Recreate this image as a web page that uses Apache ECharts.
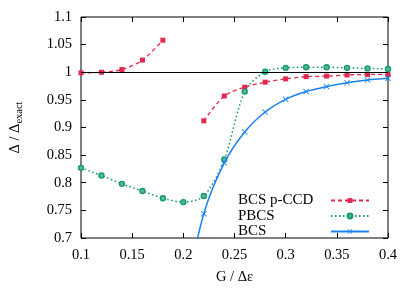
<!DOCTYPE html>
<html><head><meta charset="utf-8">
<script src="https://cdn.jsdelivr.net/npm/echarts@6/dist/echarts.min.js"></script>
<style>html,body{margin:0;padding:0;background:#fff}#c{width:415px;height:290px}</style>
</head><body><div id="c"></div>
<script>
const xs = [0.1,0.12,0.14,0.16,0.18,0.2,0.22,0.24,0.26,0.28,0.3,0.32,0.34,0.36,0.38,0.4];
const pccd = [0.999,1.000,1.005,1.022,1.058,null,0.912,0.957,0.973,0.982,0.988,0.992,0.993,0.995,0.996,0.996];
const pbcs = [0.827,0.813,0.798,0.785,0.772,0.765,0.776,0.842,0.965,1.001,1.008,1.009,1.009,1.008,1.007,1.006];
const bcs = [null,null,null,null,null,0.58,0.744,0.836,0.892,0.928,0.951,0.965,0.974,0.981,0.986,0.989];
const xTicks = [0.1,0.15,0.2,0.25,0.3,0.35,0.4];
const yTicks = [0.7,0.75,0.8,0.85,0.9,0.95,1,1.05,1.1];
const names = ['BCS p-CCD','PBCS','BCS'];

const FONT = 'Liberation Serif';
function pts(arr){ const out=[]; arr.forEach((v,i)=>{ out.push(v===null?[xs[i],'-']:[xs[i],v]); }); return out; }
function pairsNoLead(arr){ const out=[]; arr.forEach((v,i)=>{ if(v!==null) out.push([xs[i],v]); else if(out.length) out.push([xs[i],'-']); }); return out; }
const fmt = v => String(+(+v).toFixed(2));
const xSymbol = 'path://M0,1 L1,0 L5,4 L9,0 L10,1 L6,5 L10,9 L9,10 L5,6 L1,10 L0,9 L4,5 Z';

const chart = echarts.init(document.getElementById('c'));
chart.setOption({
  animation:false,
  backgroundColor:'#fff',
  grid:{left:81,right:27,top:17,bottom:48,show:true,borderColor:'#000',borderWidth:1},
  xAxis:[{
    type:'value',min:0.1,max:0.4,interval:0.05,
    axisLine:{show:false},
    axisTick:{inside:true,length:5,lineStyle:{color:'#000'}},
    splitLine:{show:false},
    axisLabel:{formatter:fmt,color:'#000',fontFamily:FONT,fontSize:14.5,margin:10},
    name:'G / Δε',nameLocation:'middle',nameGap:32,
    nameTextStyle:{color:'#000',fontFamily:FONT,fontSize:14.5}
  },{
    type:'value',position:'top',min:0.1,max:0.4,interval:0.05,
    axisLine:{show:false},axisLabel:{show:false},splitLine:{show:false},
    axisTick:{inside:true,length:5,lineStyle:{color:'#000'}}
  }],
  yAxis:[{
    type:'value',min:0.7,max:1.1,interval:0.05,
    axisLine:{show:false},
    axisTick:{inside:true,length:5,lineStyle:{color:'#000'}},
    splitLine:{show:false},
    axisLabel:{formatter:fmt,color:'#000',fontFamily:FONT,fontSize:14.5,margin:9},
    name:'{a|Δ / Δ}{b|exact}',nameLocation:'middle',nameGap:56,nameRotate:90,
    nameTextStyle:{color:'#000',fontFamily:FONT,fontSize:14.5,
      rich:{a:{fontFamily:FONT,fontSize:14.5,color:'#000'},b:{fontFamily:FONT,fontSize:10.5,color:'#000',padding:[8,0,0,0]}}}
  },{
    type:'value',position:'right',min:0.7,max:1.1,interval:0.05,
    axisLine:{show:false},axisLabel:{show:false},splitLine:{show:false},
    axisTick:{inside:true,length:5,lineStyle:{color:'#000'}}
  }],
  legend:{
    orient:'vertical',left:238,top:193,itemGap:0.5,itemWidth:38,itemHeight:6,align:'right',padding:0,
    data:names,
    formatter:n=>'{t|'+n+'}',
    textStyle:{color:'#000',fontFamily:FONT,fontSize:15,
      rich:{t:{width:88,align:'left',lineHeight:14,fontFamily:FONT,fontSize:15,color:'#000'}}}
  },
  series:[
    {name:names[0],type:'line',data:pts(pccd),connectNulls:false,smooth:0.3,
     symbol:'rect',symbolSize:5,color:'#e0294f',
     lineStyle:{width:1.3,type:[4,3],color:'#e0294f'},itemStyle:{color:'#e0294f'},
     markLine:{silent:true,symbol:'none',label:{show:false},lineStyle:{color:'#000',width:1.2,type:'solid'},data:[{yAxis:1}]},
     z:2},
    {name:names[1],type:'line',data:pts(pbcs),smooth:0.3,
     symbol:'circle',symbolSize:5,color:'#139a6b',
     lineStyle:{width:1.5,type:[1.5,2.5],color:'#139a6b'},itemStyle:{color:'#55bb90',borderColor:'#139a6b',borderWidth:1.4},
     z:3},
    {name:names[2],type:'line',data:pairsNoLead(bcs),smooth:0.3,
     symbol:xSymbol,symbolSize:6,color:'#1a82f0',
     lineStyle:{width:1.5,color:'#1a82f0'},itemStyle:{color:'#1a82f0'},
     z:4}
  ]
});
</script></body></html>
